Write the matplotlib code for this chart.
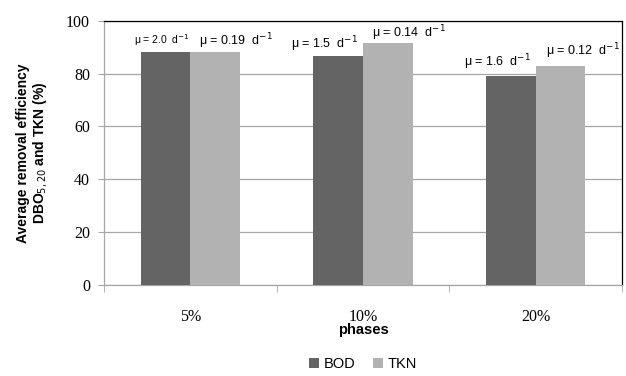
import matplotlib
matplotlib.use("Agg")
import matplotlib.pyplot as plt
import numpy as np

phases = ["5%", "10%", "20%"]
bod = [88.0, 86.8, 78.9]
tkn = [88.0, 91.7, 83.0]
bod_rates = ["2.0", "1.5", "1.6"]
tkn_rates = ["0.19", "0.14", "0.12"]

BOD_COLOR = "#646464"
TKN_COLOR = "#b2b2b2"
GRID_COLOR = "#a6a6a6"

# label nudges (x in category units, y in points above bar top)
bod_dx = [-0.02, -0.08, -0.08]
tkn_dx = [0.12, 0.12, 0.13]
bod_dy = [3, 1, 3]
tkn_dy = [1, 0, 3]

fig = plt.figure(figsize=(6.26, 3.76), dpi=100)
ax = fig.add_axes([0.166, 0.242, 0.8276, 0.703])

x = np.arange(len(phases))
w = 0.287
ax.bar(x - w / 2, bod, w, color=BOD_COLOR, label="BOD", zorder=3)
ax.bar(x + w / 2, tkn, w, color=TKN_COLOR, label="TKN", zorder=3)

for i in range(len(phases)):
    fs = 7.5 if i == 0 else 9
    ax.annotate("\u03bc = %s  d$^{-1}$" % bod_rates[i],
                xy=(x[i] - w / 2 + bod_dx[i], bod[i]), xytext=(0, bod_dy[i]),
                textcoords="offset points", ha="center", va="bottom",
                fontsize=fs, family="Liberation Sans", zorder=4)
    ax.annotate("\u03bc = %s  d$^{-1}$" % tkn_rates[i],
                xy=(x[i] + w / 2 + tkn_dx[i], tkn[i]), xytext=(0, tkn_dy[i]),
                textcoords="offset points", ha="center", va="bottom",
                fontsize=9, family="Liberation Sans", zorder=4)

ax.set_xlim(-0.5, len(phases) - 0.5)
ax.set_ylim(0, 100)
ax.set_yticks(range(0, 101, 20))
ax.yaxis.grid(True, color=GRID_COLOR, linewidth=0.9, zorder=0)
ax.set_axisbelow(True)

ax.set_xticks(x)
ax.set_xticklabels(phases, family="Liberation Serif", fontsize=11.5)
ax.set_xticks(np.arange(-0.5, len(phases)), minor=True)
ax.tick_params(axis="x", which="major", length=0, pad=17)
ax.tick_params(axis="x", which="minor", length=5, color=GRID_COLOR, direction="out")
ax.tick_params(axis="y", length=4, color=GRID_COLOR, direction="out", pad=6)
for lab in ax.get_yticklabels():
    lab.set_family("Liberation Serif")
    lab.set_fontsize(11.5)

ax.spines["left"].set_color(GRID_COLOR)
ax.spines["bottom"].set_color(GRID_COLOR)
ax.spines["top"].set_color("black")
ax.spines["right"].set_color("black")
for s in ax.spines.values():
    s.set_linewidth(0.9)

ax.set_xlabel("phases", fontsize=10.5, fontweight="bold", family="Liberation Sans", labelpad=-1)
ax.set_ylabel("Average removal efficiency\nDBO$_{5,20}$ and TKN (%)",
              fontsize=10, fontweight="bold", family="Liberation Sans", labelpad=12,
              linespacing=1.1)

ax.legend(loc="center", bbox_to_anchor=(0.5, -0.30), ncol=2, frameon=False,
          handlelength=0.7, handleheight=0.7, handletextpad=0.3, columnspacing=1.2,
          prop={"family": "Liberation Sans", "size": 10.5})

fig.savefig("out.png", dpi=100)
